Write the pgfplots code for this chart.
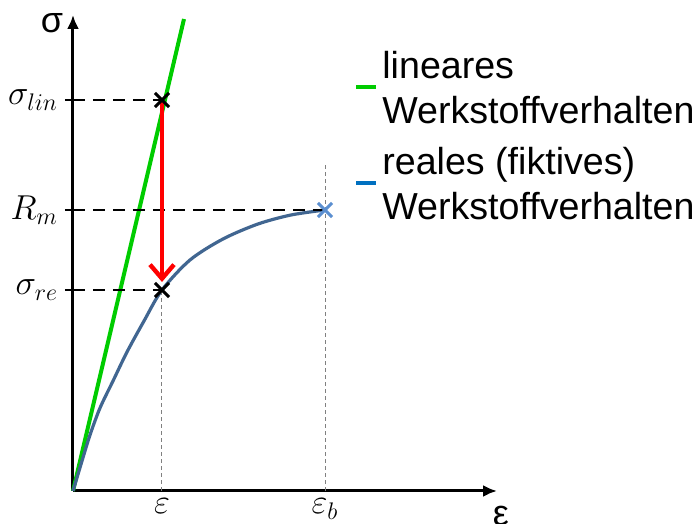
\documentclass[border=0pt]{standalone}
\usepackage{fontspec}
\setmainfont{Liberation Sans}
\usepackage{pgfplots}
\pgfplotsset{compat=1.18}
\usetikzlibrary{arrows.meta}
\definecolor{lingreen}{RGB}{0,204,0}
\definecolor{curveblue}{RGB}{65,102,145}
\definecolor{crossblue}{RGB}{91,143,208}
\definecolor{legblue}{RGB}{0,112,192}
\begin{document}
\begin{tikzpicture}
\useasboundingbox (-36.5pt,-16.5pt) rectangle (312pt,245.5pt);
\begin{axis}[
  x=0.5pt, y=0.5pt,
  anchor=origin, at={(0pt,0pt)},
  xmin=0, xmax=424, ymin=0, ymax=476,
  axis x line=bottom, axis y line=left,
  axis line style={line width=1.5pt, -{Latex[length=7pt,width=6pt]}},
  clip=false,
  xtick={89,252}, xticklabels={$\varepsilon$,$\varepsilon_b$},
  ytick={201,281,391}, yticklabels={$\sigma_{re}$,$R_m$,$\sigma_{lin}$},
  yticklabel style={font=\fontsize{16.5}{18}\selectfont},
  xticklabel style={font=\fontsize{18}{20}\selectfont, yshift=3.5pt},
  xtick style={draw=none},
  ytick style={line width=1.2pt, black},
  tick align=outside, major tick length=4pt,
  legend style={at={(axis cs:281,444)}, anchor=north west, draw=none, fill=none,
    inner sep=0pt, font=\fontsize{18.8}{22.5}\selectfont, cells={align=left},
    row sep=6.5pt},
  legend cell align=left,
  legend image code/.code={\draw[#1] (0pt,1pt) -- (6pt,1pt); \path (0pt,1pt) -- (10pt,1pt);},
]
\addplot[lingreen, line width=2pt, forget plot] coordinates {(0,0) (111,472)};
\addplot[curveblue, line width=1.6pt, smooth, forget plot] coordinates {
(0,0) (9,30) (17,56) (27,83) (40,110) (54,139) (71,170) (89,201)
(117,231) (150,252) (185,267) (218,276) (252,281)};
\addplot[black, line width=1.4pt, dash pattern=on 6pt off 4pt, forget plot] coordinates {(0,391) (89,391)};
\addplot[black, line width=1.4pt, dash pattern=on 6pt off 4pt, forget plot] coordinates {(0,281) (252,281)};
\addplot[black, line width=1.4pt, dash pattern=on 6pt off 4pt, forget plot] coordinates {(0,201) (89,201)};
\addplot[gray, line width=0.5pt, dash pattern=on 2pt off 1.5pt, forget plot] coordinates {(89,0) (89,201)};
\addplot[gray, line width=0.5pt, dash pattern=on 2pt off 1.5pt, forget plot] coordinates {(252,0) (252,328)};
\addplot[red, line width=2.2pt, -{Straight Barb[length=7pt,width=12pt]}, forget plot] coordinates {(89,391) (89,209)};
\addplot[only marks, mark=x, mark size=5pt, black, line width=1.5pt, forget plot] coordinates {(89,391) (89,201)};
\addplot[only marks, mark=x, mark size=5pt, crossblue, line width=1.5pt, forget plot] coordinates {(252,281)};
\addlegendimage{lingreen, line width=2pt}
\addlegendentry{lineares\\Werkstoffverhalten}
\addlegendimage{legblue, line width=2pt}
\addlegendentry{reales (fiktives)\\Werkstoffverhalten}
\node[font=\fontsize{18}{20}\selectfont] at (axis cs:-21,468) {σ};
\node[font=\fontsize{18}{20}\selectfont] at (axis cs:428,-25) {ε};
\end{axis}
\end{tikzpicture}
\end{document}
